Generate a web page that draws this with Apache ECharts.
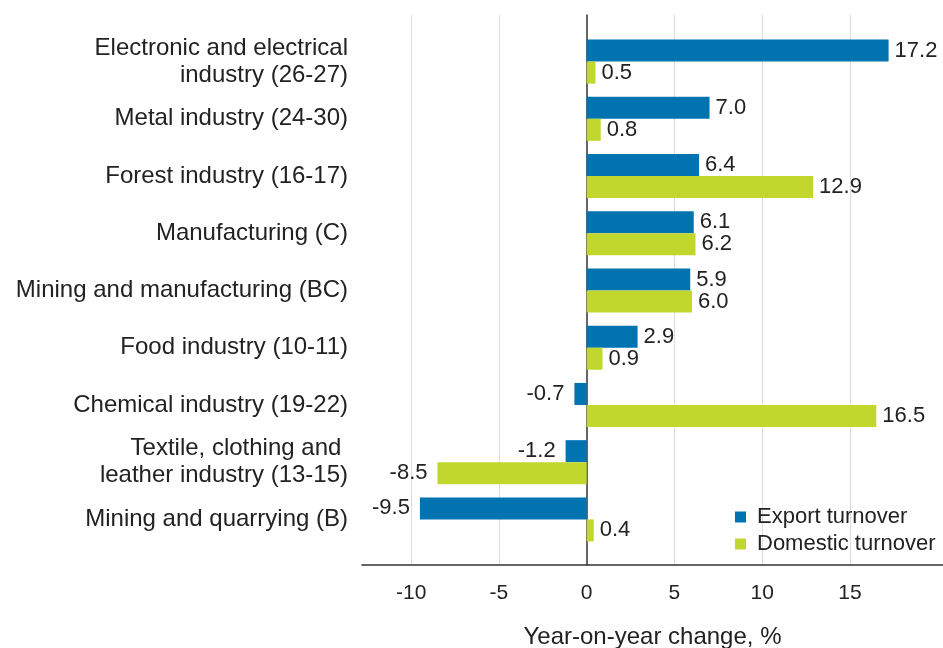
<!DOCTYPE html>
<html lang="en">

<head>
    <meta charset="UTF-8">
    <title>Turnover change by industry</title>
    <script src="https://cdn.jsdelivr.net/npm/echarts@6/dist/echarts.min.js"></script>
</head>

<body style="margin:0;">
    <div id="chart" style="width: 943px;height: 648px;"></div>
</body>
<script type="text/javascript">
    // industries, top to bottom
    var categories = [
        'Electronic and electrical\nindustry (26-27)',
        'Metal industry (24-30)',
        'Forest industry (16-17)',
        'Manufacturing (C)',
        'Mining and manufacturing (BC)',
        'Food industry (10-11)',
        'Chemical industry (19-22)',
        'Textile, clothing and \nleather industry (13-15)',
        'Mining and quarrying (B)'
    ];
    var exportTurnover = [17.2, 7.0, 6.4, 6.1, 5.9, 2.9, -0.7, -1.2, -9.5];
    var domesticTurnover = [0.5, 0.8, 12.9, 6.2, 6.0, 0.9, 16.5, -8.5, 0.4];
    var tickLabels = [-10, -5, 0, 5, 10, 15];

    var xMin = -12.8;
    var xMax = 20.3;
    var font = '"Liberation Sans", Arial, sans-serif';
    var textColor = '#222';

    var chart = echarts.init(document.getElementById('chart'));

    // negative bars get their label on the left side
    function toItems(arr) {
        return arr.map(function (v) {
            return {
                value: v,
                label: {
                    position: v < 0 ? 'left' : 'right',
                    distance: v < 0 ? 10 : 6
                }
            };
        });
    }

    var barLabel = {
        show: true,
        fontFamily: font,
        fontSize: 22,
        color: textColor,
        formatter: function (p) { return p.value.toFixed(1); }
    };

    var gl = '#dcdcdc';
    var tr = 'rgba(0,0,0,0)';

    var option = {
        animation: false,
        backgroundColor: '#fff',
        legend: {
            orient: 'vertical',
            left: 730,
            top: 501,
            icon: 'rect',
            itemWidth: 11,
            itemHeight: 11,
            itemGap: 5,
            textStyle: {
                fontFamily: font,
                fontSize: 22,
                lineHeight: 22,
                color: textColor,
                padding: [0, 0, 0, 6]
            },
            data: ['Export turnover', 'Domestic turnover']
        },
        grid: [
            // bars
            { left: 362, right: 0, top: 33, bottom: 100, outerBoundsMode: 'none' },
            // gridlines, zero line and bottom axis
            { left: 362, right: 0, top: 15, bottom: 83, outerBoundsMode: 'none' }
        ],
        xAxis: [
            {
                type: 'value',
                gridIndex: 0,
                min: xMin,
                max: xMax,
                show: false
            },
            {
                type: 'value',
                gridIndex: 1,
                min: xMin,
                max: xMax,
                axisLine: { show: true, onZero: false, lineStyle: { color: '#333', width: 1.5 } },
                axisTick: { show: false },
                axisLabel: {
                    fontFamily: font,
                    fontSize: 21,
                    color: textColor,
                    margin: 18,
                    formatter: function (v) {
                        return tickLabels.indexOf(v) >= 0 ? String(v) : '';
                    }
                },
                splitLine: {
                    show: true,
                    lineStyle: { color: [tr, gl, gl, tr, gl, gl, gl, tr, tr], width: 1 }
                },
                name: 'Year-on-year change, %',
                nameLocation: 'middle',
                nameGap: 60,
                nameTextStyle: { fontFamily: font, fontSize: 24, color: textColor }
            }
        ],
        yAxis: [
            {
                type: 'category',
                gridIndex: 0,
                inverse: true,
                data: categories,
                axisLine: { show: false, onZero: false },
                axisTick: { show: false },
                axisLabel: {
                    fontFamily: font,
                    fontSize: 24,
                    lineHeight: 27,
                    color: textColor,
                    margin: 14,
                    align: 'right'
                }
            },
            {
                type: 'category',
                gridIndex: 1,
                data: categories,
                axisLine: { show: true, onZero: true, lineStyle: { color: '#333', width: 1.5 } },
                axisTick: { show: false },
                axisLabel: { show: false }
            }
        ],
        series: [
            {
                name: 'Export turnover',
                type: 'bar',
                xAxisIndex: 0,
                yAxisIndex: 0,
                barWidth: 22,
                barGap: '0%',
                itemStyle: { color: '#0073b0' },
                label: barLabel,
                data: toItems(exportTurnover)
            },
            {
                name: 'Domestic turnover',
                type: 'bar',
                xAxisIndex: 0,
                yAxisIndex: 0,
                barWidth: 22,
                barGap: '0%',
                itemStyle: { color: '#c1d72e' },
                label: barLabel,
                data: toItems(domesticTurnover)
            }
        ]
    };

    chart.setOption(option);
</script>

</html>
